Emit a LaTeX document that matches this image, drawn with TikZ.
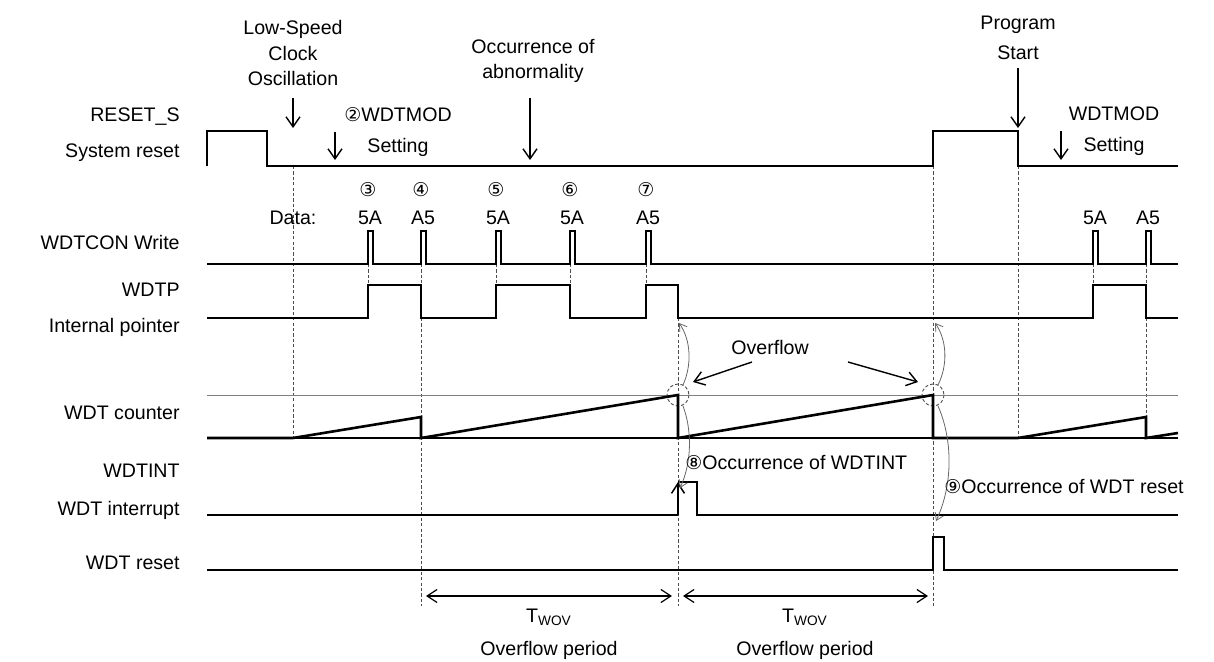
\documentclass[tikz,border=0pt]{standalone}
\usepackage{fontspec}
\setmainfont{Liberation Sans}
\newfontfamily\symfont{DejaVu Sans}
\usetikzlibrary{arrows.meta, positioning}

\newcommand{\cnum}[1]{{\symfont\fontsize{9.5}{9.5}\selectfont #1}}

\begin{document}
\begin{tikzpicture}[
    x=0.5pt, y=-0.5pt,
    font=\fontsize{9.8}{12.75}\selectfont,
    sig/.style={line width=0.75pt},
    ramp/.style={line width=1.3pt},
    guide/.style={line width=0.5pt, draw=black!50},
    vdash/.style={line width=0.45pt, draw=black!70, dash pattern=on 1.6pt off 1.1pt},
    callout/.style={-{Straight Barb[length=5pt, width=7pt]}, line width=0.7pt},
    loopback/.style={-{Straight Barb[length=3.5pt, width=4.5pt]}, line width=0.4pt, draw=black!60},
    period/.style={{Straight Barb[length=5pt, width=6.5pt]}-{Straight Barb[length=5pt, width=6.5pt]}, line width=0.6pt},
    siglabel/.style={anchor=base east, inner sep=0pt},
    note/.style={align=center, inner sep=0pt}
]
\useasboundingbox (0,0) rectangle (1214,662);

% ============ Signal names ============
\node[siglabel] (resetname) at (180,122) {RESET\_S};
\node[siglabel] (resetdesc) at (180,158) {System reset};
\node[siglabel] (wdtcon) at (180,250) {WDTCON Write};
\node[siglabel] (wdtpname) at (180,297) {WDTP};
\node[siglabel] (wdtpdesc) at (180,333) {Internal pointer};
\node[siglabel] (counter) at (180,419) {WDT counter};
\node[siglabel] (intname) at (180,477) {WDTINT};
\node[siglabel] (intdesc) at (180,515) {WDT interrupt};
\node[siglabel] (wdtreset) at (180,569) {WDT reset};

% ============ Event callouts ============
\node[note] (lowspeed) at (293,53) {Low-Speed\\Clock\\Oscillation};
\node[note] (abnormal) at (533,61) {Occurrence of\\abnormality};
\node[note] (modset) at (398,132) {\cnum{②}WDTMOD\\[2.5pt]Setting};
\node[note] (progstart) at (1018,38) {Program\\[2.5pt]Start};
\node[note] (modagain) at (1114,131) {WDTMOD\\[2.5pt]Setting};

\coordinate (lowspeedtip) at (293,128);
\coordinate (modtip) at (335,160);
\coordinate (abnormaltip) at (530,160);
\coordinate (starttip) at (1018,128);
\coordinate (modagaintip) at (1061,160);

\draw[callout] (lowspeed.south |- 0,98) -- (lowspeedtip);
\draw[callout] (modtip |- 0,132) -- (modtip);
\draw[callout] (abnormaltip |- 0,98) -- (abnormaltip);
\draw[callout] (progstart.south |- 0,68) -- (starttip);
\draw[callout] (modagaintip |- 0,131) -- (modagaintip);

% ============ Write data ============
\foreach \px/\num [count=\i] in {368/③, 421/④, 496/⑤, 570/⑥, 646/⑦}
    \node (seq\i) at (\px,190) {\cnum{\num}};
\node (datalabel) at (293,218) {Data:};
\foreach \px/\val [count=\i] in {370/5A, 423/A5, 498/5A, 572/5A, 648/A5, 1095/5A, 1148/A5}
    \node (data\i) at (\px,218) {\val};

% ============ Guide lines ============
\draw[vdash] (293,166) -- (293,438);
\draw[vdash] (421,264) -- (421,606);
\draw[vdash] (678,318) -- (678,606);
\draw[vdash] (933,166) -- (933,606);
\draw[vdash] (1018,166) -- (1018,438);
\draw[vdash] (1146,264) -- (1146,438);
\foreach \px in {368, 496, 570, 646, 1093}
    \draw[vdash] (\px,264) -- (\px,285);
\foreach \cx in {678, 933}
    \draw[vdash] (\cx,395) circle[radius=11];

% ============ Waveforms ============
\draw[sig] (207,166) -- (207,131) -- (267,131) -- (267,166) -- (933,166)
    -- (933,131) -- (1018,131) -- (1018,166) -- (1178,166);
\draw[sig] (207,264) \foreach \px in {368, 421, 496, 570, 646, 1093, 1146}
    { -- (\px,264) -- (\px,231) -- ({\px+5},231) -- ({\px+5},264) } -- (1178,264);
\draw[sig] (207,318) -- (368,318) -- (368,285) -- (421,285) -- (421,318)
    -- (496,318) -- (496,285) -- (570,285) -- (570,318) -- (646,318)
    -- (646,285) -- (678,285) -- (678,318) -- (1093,318) -- (1093,285)
    -- (1146,285) -- (1146,318) -- (1178,318);
\draw[guide] (207,395) -- (1178,395);
\draw[sig, line width=0.6pt] (207,438) -- (1178,438);
\draw[ramp] (207,438) -- (293,438) -- (421,417) -- (421,438) -- (678,395)
    -- (678,438) -- (933,395) -- (933,438) -- (1018,438) -- (1146,417)
    -- (1146,438) -- (1178,433);
\draw[sig] (207,515) -- (678,515);
\draw[sig, -{Straight Barb[length=5pt, width=6.5pt]}] (678,515) -- (678,482);
\draw[sig] (678,482) -- (697,482) -- (697,515) -- (1178,515);
\draw[sig] (207,570) -- (933,570) -- (933,537) -- (944,537) -- (944,570) -- (1178,570);

% ============ Overflow ============
\node (overflow) at (770,347) {Overflow};
\coordinate (ovleft) at (693,382);
\coordinate (ovright) at (918,382);
\draw[callout] (752,362) -- (ovleft);
\draw[callout] (848,362) -- (ovright);

\draw[loopback] (683,385) .. controls (692,365) and (691,340) .. (679,323);
\draw[loopback] (683,406) .. controls (692,430) and (692,462) .. (680,488);
\draw[loopback] (938,385) .. controls (948,365) and (947,340) .. (935,323);
\draw[loopback] (938,406) .. controls (953,440) and (953,485) .. (936,521);

\node[anchor=west, inner sep=0pt] (intnote) at (685,463) {\cnum{⑧}Occurrence of WDTINT};
\node[anchor=west, inner sep=0pt] (resetnote) at (944,487) {\cnum{⑨}Occurrence of WDT reset};

% ============ Overflow period ============
\draw[period] (426,596) -- (672,596);
\draw[period] (683,596) -- (928,596);
\node (twova) at (549,617) {T\textsubscript{WOV}};
\node (twovb) at (805,617) {T\textsubscript{WOV}};
\node (perioda) at (549,650) {Overflow period};
\node (periodb) at (805,650) {Overflow period};

\end{tikzpicture}
\end{document}
